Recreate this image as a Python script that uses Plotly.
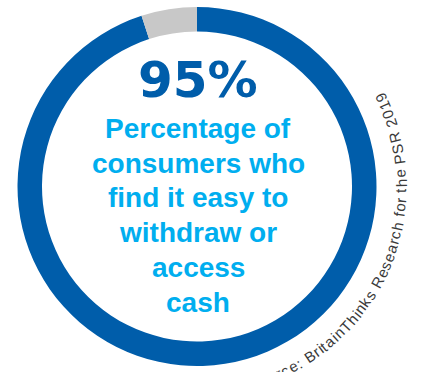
import math
import plotly.graph_objects as go

# ---- data -------------------------------------------------------------
segment_labels = ["Find it easy", "Do not find it easy"]
segment_values = [95, 5]
segment_colors = ["#005DAA", "#C8C8C8"]

headline_lines = [
    "Percentage of",
    "consumers who",
    "find it easy to",
    "withdraw or",
    "access",
    "cash",
]
source_text = "Source: BritainThinks Research for the PSR 2019"

# ---- canvas geometry (pixels) ----------------------------------------
W, H = 421, 372
CX, CY = 197.0, 186.5          # ring centre
R_OUT = 179.5                  # outer radius of the ring
RING_W = 24.5                  # ring thickness


def px(x):
    return x / W


def py(y):
    return 1 - y / H


fig = go.Figure()

fig.add_trace(go.Pie(
    labels=segment_labels,
    values=segment_values,
    marker=dict(colors=segment_colors, line=dict(width=0)),
    hole=(R_OUT - RING_W) / R_OUT,
    sort=False,
    direction="clockwise",
    rotation=0,
    textinfo="none",
    hoverinfo="label+percent",
    showlegend=False,
    domain=dict(x=[px(CX - R_OUT), px(CX + R_OUT)],
                y=[py(CY + R_OUT), py(CY - R_OUT)]),
))

annotations = []

# big percentage figure
share = segment_values[0]
big_size = 50
annotations.append(dict(
    text=f"<b>{share}%</b>",
    x=px(CX + 1), y=py(97 - 0.346 * big_size),
    xref="paper", yref="paper", xanchor="center", yanchor="middle",
    showarrow=False,
    font=dict(family="DejaVu Sans", size=big_size, color="#005DAA"),
))

# description lines under the figure
line_size = 28
first_baseline = 138.0
line_step = 34.8
for i, line in enumerate(headline_lines):
    base = first_baseline + i * line_step
    annotations.append(dict(
        text=f"<b>{line}</b>",
        x=px(CX + 1), y=py(base - 0.3465 * line_size),
        xref="paper", yref="paper", xanchor="center", yanchor="middle",
        showarrow=False,
        font=dict(family="Liberation Sans, Arial", size=line_size,
                  color="#00AEEF"),
    ))

# source note set along an arc outside the ring, reading counter-clockwise
ADV = {
    "S": .667, "o": .556, "u": .556, "r": .333, "c": .5, "e": .556,
    ":": .278, " ": .278, "B": .667, "i": .222, "t": .278, "a": .556,
    "n": .556, "T": .611, "h": .556, "k": .5, "s": .5, "R": .722,
    "f": .278, "P": .667, "2": .556, "0": .556, "1": .556, "9": .556,
}
src_size = 15
tracking = 0.8
r_adv = 206.0
r_text = 204.0
end_angle = 25.7              # angle (deg) of the last glyph centre

centres = []
pos = 0.0
for ch in source_text:
    w = ADV.get(ch, 0.55) * src_size
    centres.append(pos + w / 2)
    pos += w + tracking
last = centres[-1]

for ch, s in zip(source_text, centres):
    if ch == " ":
        continue
    theta = end_angle - math.degrees((last - s) / r_adv)
    t = math.radians(theta)
    x = CX + r_text * math.cos(t)
    y = CY - r_text * math.sin(t)
    annotations.append(dict(
        text=ch,
        x=px(x), y=py(y),
        xref="paper", yref="paper", xanchor="center", yanchor="middle",
        showarrow=False, textangle=-(90 + theta),
        font=dict(family="Liberation Sans, Arial", size=src_size,
                  color="#3A3A3A"),
    ))

fig.update_layout(
    width=W, height=H,
    margin=dict(l=0, r=0, t=0, b=0),
    paper_bgcolor="white",
    plot_bgcolor="white",
    annotations=annotations,
)

fig.write_html("out.html")
